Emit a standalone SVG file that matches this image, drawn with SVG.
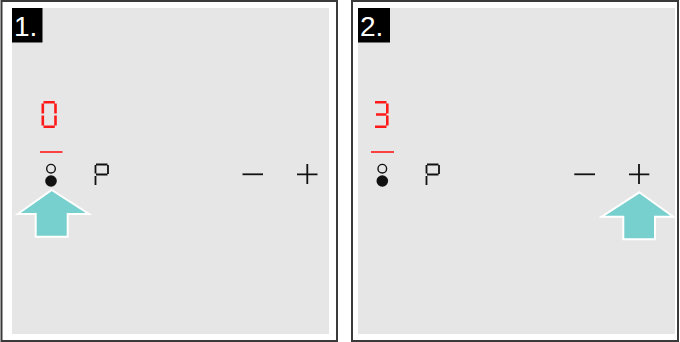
<svg xmlns="http://www.w3.org/2000/svg" width="680" height="342" viewBox="0 0 680 342">
<style>
.frame{fill:#fff;stroke:#3a3a3a;stroke-width:2}
.field{fill:#e6e6e6}
.tag{fill:#000}
.tagt{fill:#fff;font-family:"Liberation Sans",Arial,sans-serif;font-size:28px}
.seg{stroke:#ff1a1a;stroke-width:2.6;stroke-linecap:butt;fill:none}
.red{stroke:#ff1a1a;stroke-width:1.6}
.blk{stroke:#111;stroke-width:1.8;fill:none}
.arrow{fill:#77d0ce;stroke:#fff;stroke-width:2;stroke-linejoin:miter}
</style>
<g id="panel1">
<rect class="frame" x="1.5" y="1" width="335.5" height="340"/>
<rect class="field" x="12" y="8" width="317" height="326"/>
<rect class="tag" x="12" y="8" width="30.5" height="34.5"/>
<text class="tagt" x="14" y="36">1.</text>
<g id="digit0">
<path class="seg" d="M43.5 102.3H54.8 M42.8 103.5V113.5 M55.5 103.5V113.5 M42.8 115.5V125.5 M55.5 115.5V125.5 M43.5 126.7H54.8"/>
</g>
<line class="red" x1="40" y1="152" x2="62.5" y2="152"/>
<circle cx="51" cy="168.7" r="4.3" fill="none" stroke="#111" stroke-width="1.4"/>
<circle cx="51" cy="181" r="5.8" fill="#111"/>
<path class="blk" d="M96 164.5H107.5 M108 165V174 M96 174.5H107.5 M95.5 165V173.5 M95.5 176V185"/>
<line class="blk" x1="242.5" y1="174.3" x2="263" y2="174.3"/>
<path class="blk" d="M297 174.3H317.5 M307.3 164V184"/>
<polygon class="arrow" points="51.7,190 89,214 67.7,214 67.7,236.7 35.7,236.7 35.7,214 17.7,214"/>
</g>
<g id="panel2">
<rect class="frame" x="352" y="1" width="326" height="340"/>
<rect class="field" x="358" y="8" width="317" height="326"/>
<rect class="tag" x="358" y="8" width="32" height="34.5"/>
<text class="tagt" x="360" y="36">2.</text>
<g id="digit3">
<path class="seg" d="M375 102.3H386.5 M387.3 103.5V113.5 M376 114.5H386.5 M387.3 115.5V125.5 M375 126.7H386.5"/>
</g>
<line class="red" x1="371" y1="152" x2="394" y2="152"/>
<circle cx="382.3" cy="168.7" r="4.3" fill="none" stroke="#111" stroke-width="1.4"/>
<circle cx="382.3" cy="181" r="5.8" fill="#111"/>
<path class="blk" d="M427 164.5H438.5 M439 165V174 M427 174.5H438.5 M426.5 165V173.5 M426.5 176V185"/>
<line class="blk" x1="574.3" y1="174.3" x2="595" y2="174.3"/>
<path class="blk" d="M629 174.3H649.3 M639 164V184"/>
<polygon class="arrow" points="639.3,192.3 673.3,216.7 655,216.7 655,239.3 623.3,239.3 623.3,216.7 601.7,216.7"/>
</g>
</svg>
